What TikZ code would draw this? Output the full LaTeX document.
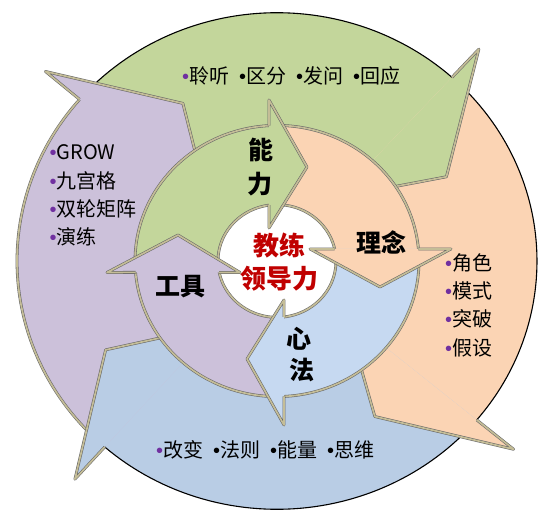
\documentclass[tikz,border=0pt]{standalone}
\usepackage{fontspec}
\newfontfamily\cjk{Noto Sans CJK SC}
\newfontfamily\bul{Liberation Sans}
\definecolor{gfill}{HTML}{C3D69B}
\definecolor{ofill}{HTML}{FBD4B4}
\definecolor{bfill}{HTML}{B9CDE5}
\definecolor{bfillin}{HTML}{C6D9F1}
\definecolor{pfill}{HTML}{CCC1DA}
\definecolor{tanc}{HTML}{C4BD97}
\definecolor{bpurple}{HTML}{7030A0}
\definecolor{cred}{HTML}{C00000}
\newcommand{\pb}{{\bul\color{bpurple}•}}
\newcommand{\kb}{{\bul •}}
\newcommand{\gap}{\hspace{10pt}}
\begin{document}
\begin{tikzpicture}[x=1pt,y=-1pt,
  tanline/.style={draw=black!60, line width=0.55pt, double=tanc, double distance=1.7pt, line join=round},
  blkline/.style={draw=black, line width=1.1pt},
  lst/.style={font=\cjk\fontsize{20}{24}\selectfont, inner sep=0pt, anchor=west},
  lbl/.style={font=\cjk\bfseries\fontsize{25}{28}\selectfont, inner sep=0pt},
  ctr/.style={font=\cjk\bfseries\fontsize{26}{30}\selectfont, inner sep=0pt, text=cred}]
\useasboundingbox (0,0) rectangle (552,525);
\fill[white] (0,0) rectangle (552,525);

\begin{scope}[shift={(277,261)}, yscale=-0.955, variable=\t, samples=60]
% ---------- outer ring bodies ----------
\fill[gfill] plot[domain=139.4:47.7] (\t:260) -- (47.7:300) -- (27.5:191) -- (47.7:90) -- plot[domain=47.7:139.4] (\t:142) -- cycle;
\fill[ofill] plot[domain=47.7:-39.8] (\t:260) -- (-39.8:308) -- (-59:190) -- (-39.8:90) -- plot[domain=-39.8:47.7] (\t:142) -- cycle;
\fill[bfill] plot[domain=-39.8:-131.5] (\t:260) -- (-131.5:305) -- (-151.5:195) -- (-131.5:90) -- plot[domain=-131.5:-39.8] (\t:142) -- cycle;
\fill[pfill] plot[domain=-131.5:-220.6] (\t:260) -- (139.4:305) -- (119.7:190) -- (139.4:90) -- plot[domain=-220.6:-131.5] (\t:142) -- cycle;
\draw[blkline] plot[domain=139.4:47.7] (\t:260);
\draw[blkline] plot[domain=47.7:-39.8] (\t:260);
\draw[blkline] plot[domain=-39.8:-131.5] (\t:260);
\draw[tanline] plot[domain=-131.5:-220.6] (\t:260);
% ---------- outer ring heads ----------
\fill[gfill] (47.7:300) -- (27.5:191) -- (47.7:90) -- cycle;
\draw[tanline] (47.7:260) -- (47.7:300) -- (27.5:191) -- (47.7:90);
\fill[ofill] (-39.8:308) -- (-59:190) -- (-39.8:90) -- cycle;
\draw[tanline] (-39.8:260) -- (-39.8:308) -- (-59:190) -- (-39.8:90);
\fill[bfill] (-131.5:305) -- (-151.5:195) -- (-131.5:90) -- cycle;
\draw[tanline] (-131.5:260) -- (-131.5:305) -- (-151.5:195) -- (-131.5:90);
\fill[pfill] (139.4:305) -- (119.7:190) -- (139.4:90) -- cycle;
\draw[tanline] (139.4:260) -- (139.4:305) -- (119.7:190) -- (139.4:90);

% ---------- inner ring bodies ----------
\fill[gfill] plot[domain=184.8:93.2] (\t:142) -- (-8,168.6) -- (30,98.4) -- (-8,34.6) -- (97.8:59) -- plot[domain=97.8:191.7] (\t:59) -- cycle;
\fill[ofill] plot[domain=93.2:5.1] (\t:142) -- (174,12.6) -- (103,-27.2) -- (33,12.6) -- (12.3:59) -- plot[domain=12.3:97.8] (\t:59) -- cycle;
\fill[bfillin] plot[domain=5.1:-87.2] (\t:142) -- (7,-171.7) -- (-30,-102.6) -- (7,-40.8) -- (-83.2:59) -- plot[domain=-83.2:12.3] (\t:59) -- cycle;
\fill[pfill] plot[domain=-87.2:-175.2] (\t:142) -- (-170,-12) -- (-99,27.2) -- (-37,-12) -- (-168.3:59) -- plot[domain=-168.3:-83.2] (\t:59) -- cycle;
\draw[tanline] plot[domain=184.8:93.2] (\t:142);
\draw[tanline] plot[domain=93.2:5.1] (\t:142);
\draw[tanline] plot[domain=5.1:-87.2] (\t:142);
\draw[tanline] plot[domain=-87.2:-175.2] (\t:142);
\draw[tanline] plot[domain=97.8:191.7] (\t:59);
\draw[tanline] plot[domain=12.3:97.8] (\t:59);
\draw[tanline] plot[domain=-83.2:12.3] (\t:59);
\draw[tanline] plot[domain=-168.3:-83.2] (\t:59);
% ---------- inner ring heads ----------
\fill[gfill] (-8,168.6) -- (30,98.4) -- (-8,34.6) -- cycle;
\draw[tanline] (93.2:142) -- (-8,168.6) -- (30,98.4) -- (-8,34.6) -- (97.8:59);
\fill[ofill] (174,12.6) -- (103,-27.2) -- (33,12.6) -- cycle;
\draw[tanline] (5.1:142) -- (174,12.6) -- (103,-27.2) -- (33,12.6) -- (12.3:59);
\fill[bfillin] (7,-171.7) -- (-30,-102.6) -- (7,-40.8) -- cycle;
\draw[tanline] (-87.2:142) -- (7,-171.7) -- (-30,-102.6) -- (7,-40.8) -- (-83.2:59);
\fill[pfill] (-170,-12) -- (-99,27.2) -- (-37,-12) -- cycle;
\draw[tanline] (-175.2:142) -- (-170,-12) -- (-99,27.2) -- (-37,-12) -- (-168.3:59);
\end{scope}

% ---------- texts ----------
\node[lst] (top) at (182,76) {\pb 聆听\gap\kb 区分\gap\kb 发问\gap\kb 回应};
\node[lst] (l1) at (49.5,152.5) {\pb GROW};
\node[lst] (l2) at (49.5,181) {\pb 九宫格};
\node[lst] (l3) at (49.5,209) {\pb 双轮矩阵};
\node[lst] (l4) at (49.5,236.5) {\pb 演练};
\node[lst] (r1) at (445,262.5) {\pb 角色};
\node[lst] (r2) at (445,291) {\pb 模式};
\node[lst] (r3) at (445,319) {\pb 突破};
\node[lst] (r4) at (445,347.5) {\pb 假设};
\node[lst] (bot) at (156,450) {\pb 改变\gap\kb 法则\gap\kb 能量\gap\kb 思维};

\node[lbl] (n1) at (261,149.5) {能};
\node[lbl] (n2) at (259.5,184) {力};
\node[lbl] (ln) at (381,242.5) {理念};
\node[lbl] (gj) at (180.5,287) {工具};
\node[lbl] (x1) at (298.5,339) {心};
\node[lbl] (x2) at (302,369.5) {法};
\node[ctr] (c1) at (279,245) {教练};
\node[ctr] (c2) at (279,279) {领导力};
\end{tikzpicture}
\end{document}
